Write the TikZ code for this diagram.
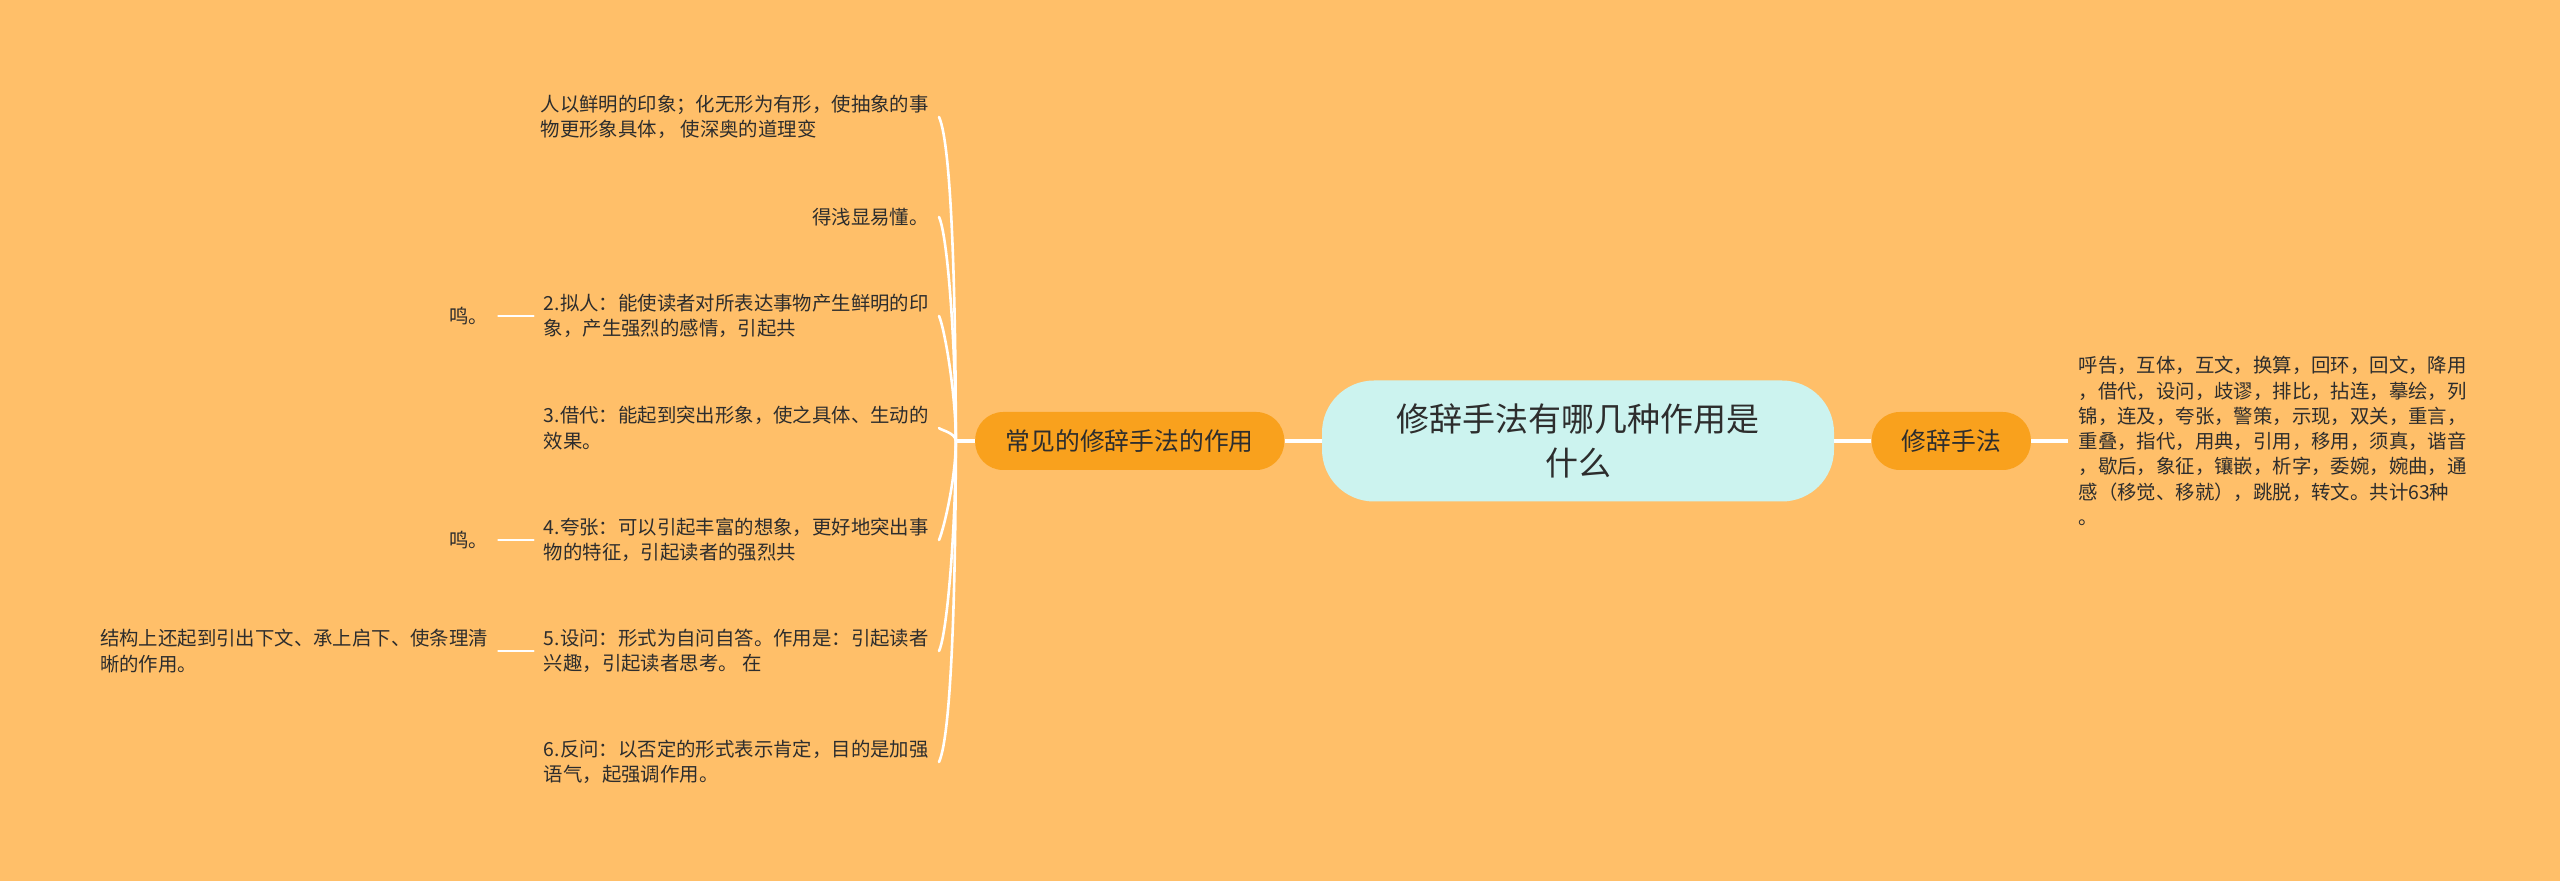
\documentclass[tikz,border=0pt]{standalone}
\usepackage{fontspec}
\setmainfont{Noto Sans CJK SC}
\usepackage{xcolor}
\usetikzlibrary{positioning}

\definecolor{bgorange}{HTML}{FFBF69}
\definecolor{nodeorange}{HTML}{F9A11D}
\definecolor{rootcyan}{HTML}{CCF3EF}
\definecolor{inkgray}{HTML}{2D2D2D}

\tikzset{
  root/.style={fill=rootcyan, rounded corners=26pt, minimum width=256pt, minimum height=60.5pt,
    align=center, font=\fontsize{16.5}{22}\selectfont, text=inkgray},
  topic/.style={fill=nodeorange, rounded corners=14pt, minimum height=29pt, inner xsep=0pt,
    font=\fontsize{12.4}{15}\selectfont, text=inkgray},
  leaf/.style={align=left, inner xsep=5pt, inner ysep=0pt,
    font=\fontsize{9.7}{12.65}\selectfont, text=inkgray},
  link/.style={draw=white, line width=2pt},
  twig/.style={draw=white, line width=1.3pt, line cap=round},
  bendup/.style={out=90, in=-65, in looseness=0.25},
  benddown/.style={out=-90, in=65, in looseness=0.25},
}

\begin{document}
\begin{tikzpicture}[x=0.5pt, y=0.5pt, node distance=18.5pt]
        \fill[bgorange] (0,0) rectangle (2560,-881);
        \useasboundingbox (0,0) rectangle (2560,-881);

        \node[root] (ctr) at (1578,-441) {修辞手法有哪几种作用是\\什么};
        \node[topic, minimum width=154.5pt] (lt) [left=of ctr] {常见的修辞手法的作用};
        \node[topic, minimum width=79.5pt] (rt) [right=of ctr] {修辞手法};
        \node[leaf] (kinds) [right=of rt] {呼告，互体，互文，换算，回环，回文，降用\\
          ，借代，设问，歧谬，排比，拈连，摹绘，列\\
          锦，连及，夸张，警策，示现，双关，重言，\\
          重叠，指代，用典，引用，移用，须真，谐音\\
          ，歇后，象征，镶嵌，析字，委婉，婉曲，通\\
          感（移觉、移就），跳脱，转文。共计63种\\
          。};
        \coordinate[left=9.5pt of lt] (sp);

        % left branch
        \node[leaf, anchor=east] (c1) at (939,-117) {人以鲜明的印象；化无形为有形，使抽象的事\\物更形象具体， 使深奥的道理变};
        \node[leaf, anchor=east] (c1b) at (939,-217) {得浅显易懂。};
        \node[leaf, anchor=east] (c2) at (939,-316) {2.拟人：能使读者对所表达事物产生鲜明的印\\象，产生强烈的感情，引起共};
        \node[leaf, anchor=east] (c3) at (939,-428) {3.借代：能起到突出形象，使之具体、生动的\\效果。};
        \node[leaf, anchor=east] (c4) at (939,-540) {4.夸张：可以引起丰富的想象，更好地突出事\\物的特征，引起读者的强烈共};
        \node[leaf, anchor=east] (c5) at (939,-651) {5.设问：形式为自问自答。作用是：引起读者\\兴趣，引起读者思考。 在};
        \node[leaf, anchor=east] (c6) at (939,-762) {6.反问：以否定的形式表示肯定，目的是加强\\语气，起强调作用。};

        \node[leaf] (m2) [left=17.5pt of c2] {鸣。};
        \node[leaf] (m4) [left=17.5pt of c4] {鸣。};
        \node[leaf] (m5) [left=17.5pt of c5] {结构上还起到引出下文、承上启下、使条理清\\晰的作用。};

        \path[link]
        (ctr) edge (lt)
        (ctr) edge (rt)
        (rt) edge (kinds)
        (lt) edge (sp);

        \path[twig]
        (sp) edge [bendup] (c1.east)
        (sp) edge [bendup] (c1b.east)
        (sp) edge [bendup] (c2.east)
        (sp) edge [bendup] (c3.east)
        (sp) edge [benddown] (c4.east)
        (sp) edge [benddown] (c5.east)
        (sp) edge [benddown] (c6.east)
        (m2) edge (c2)
        (m4) edge (c4)
        (m5) edge (c5);
    \end{tikzpicture}
\end{document}
